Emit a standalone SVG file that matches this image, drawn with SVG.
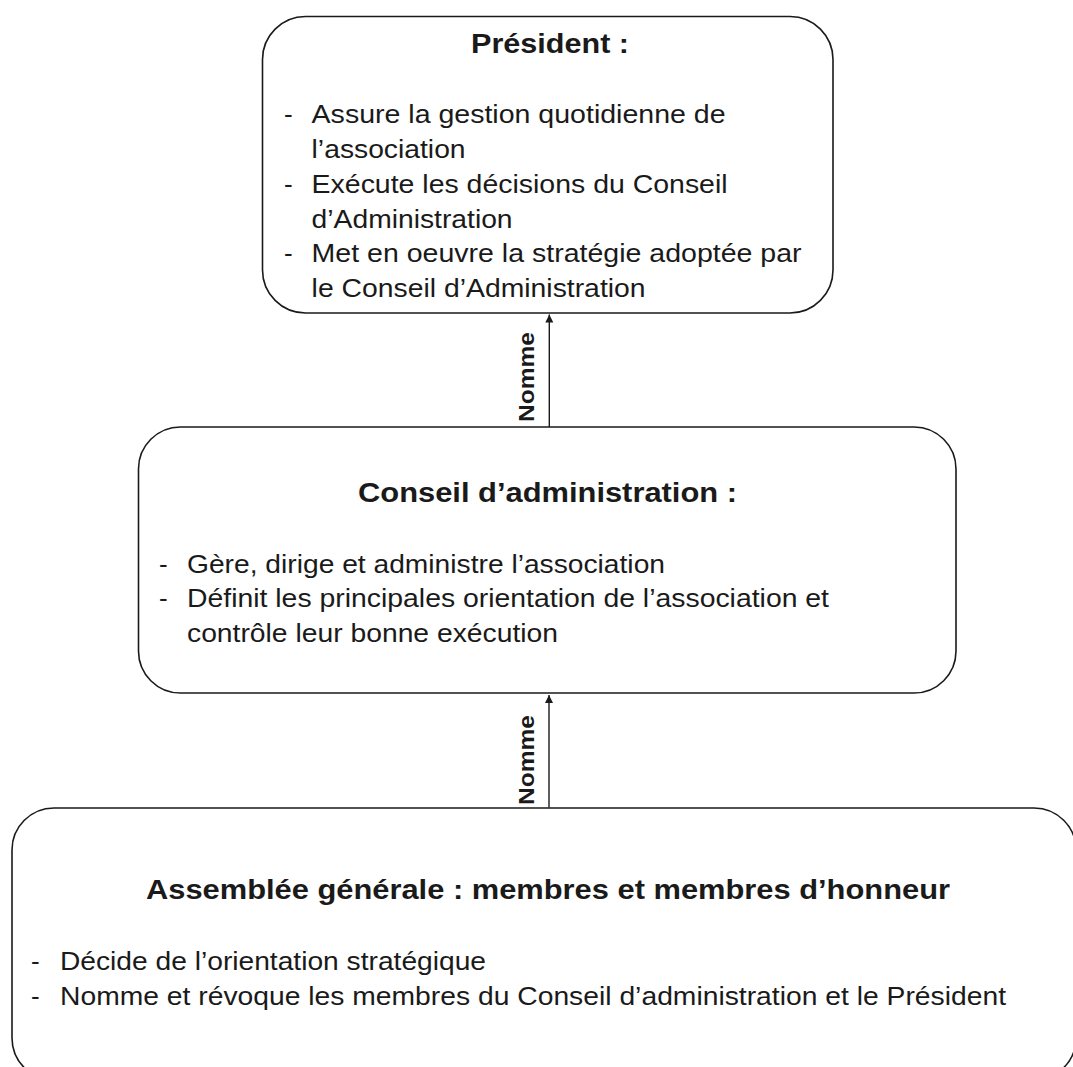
<svg xmlns="http://www.w3.org/2000/svg" width="1073" height="1067" viewBox="0 0 1073 1067">
  <defs>
    <marker id="arrow" markerUnits="userSpaceOnUse" markerWidth="9" markerHeight="9" refX="8" refY="4.5" orient="auto">
      <path d="M0,0.5 L8,4.5 L0,8.5 z" fill="#1a1a1a"/>
    </marker>
  </defs>
  <style>
    .box { fill: #ffffff; stroke: #1a1a1a; stroke-width: 1.6; }
    .title { font-family: "Liberation Sans", Arial, sans-serif; font-weight: bold; font-size: 27px; fill: #1a1a1a; }
    .body { font-family: "Liberation Sans", Arial, sans-serif; font-size: 26px; fill: #1a1a1a; }
    .lbl { font-family: "Liberation Sans", Arial, sans-serif; font-weight: bold; font-size: 22px; fill: #1a1a1a; }
    .edge { stroke: #1a1a1a; stroke-width: 1.4; fill: none; }
  </style>
  <rect width="1073" height="1067" fill="#ffffff"/>

  <g id="connectors">
    <line class="edge" x1="549.3" y1="427" x2="549.3" y2="314.5" marker-end="url(#arrow)"/>
    <text class="lbl" transform="translate(534,377) rotate(-90)" text-anchor="middle" textLength="90" lengthAdjust="spacingAndGlyphs">Nomme</text>
    <line class="edge" x1="549" y1="807.5" x2="549" y2="695" marker-end="url(#arrow)"/>
    <text class="lbl" transform="translate(534,760) rotate(-90)" text-anchor="middle" textLength="90" lengthAdjust="spacingAndGlyphs">Nomme</text>
  </g>

  <g id="president">
    <rect class="box" x="262.5" y="16.5" width="570.5" height="296.5" rx="43" ry="43"/>
    <text class="title" x="471" y="53" textLength="158" lengthAdjust="spacingAndGlyphs">Président :</text>
    <text class="body" x="284" y="123">-</text>
    <text class="body" x="311.6" y="123" textLength="414" lengthAdjust="spacingAndGlyphs">Assure la gestion quotidienne de</text>
    <text class="body" x="311.6" y="158" textLength="154" lengthAdjust="spacingAndGlyphs">l’association</text>
    <text class="body" x="284" y="193">-</text>
    <text class="body" x="311.6" y="193" textLength="416" lengthAdjust="spacingAndGlyphs">Exécute les décisions du Conseil</text>
    <text class="body" x="311.6" y="228" textLength="201" lengthAdjust="spacingAndGlyphs">d’Administration</text>
    <text class="body" x="284" y="262">-</text>
    <text class="body" x="311.6" y="262" textLength="490" lengthAdjust="spacingAndGlyphs">Met en oeuvre la stratégie adoptée par</text>
    <text class="body" x="311.6" y="297" textLength="334" lengthAdjust="spacingAndGlyphs">le Conseil d’Administration</text>
  </g>

  <g id="conseil">
    <rect class="box" x="138.5" y="427" width="817.5" height="266" rx="42" ry="42"/>
    <text class="title" x="358" y="501.7" textLength="379" lengthAdjust="spacingAndGlyphs">Conseil d’administration :</text>
    <text class="body" x="159" y="572.7">-</text>
    <text class="body" x="187" y="572.7" textLength="478" lengthAdjust="spacingAndGlyphs">Gère, dirige et administre l’association</text>
    <text class="body" x="159" y="606.7">-</text>
    <text class="body" x="187" y="606.7" textLength="642" lengthAdjust="spacingAndGlyphs">Définit les principales orientation de l’association et</text>
    <text class="body" x="187" y="641.7" textLength="371" lengthAdjust="spacingAndGlyphs">contrôle leur bonne exécution</text>
  </g>

  <g id="assemblee">
    <rect class="box" x="12" y="808" width="1064" height="272" rx="42" ry="42"/>
    <text class="title" x="146" y="899" textLength="804" lengthAdjust="spacingAndGlyphs">Assemblée générale : membres et membres d’honneur</text>
    <text class="body" x="31" y="970">-</text>
    <text class="body" x="60" y="970" textLength="426" lengthAdjust="spacingAndGlyphs">Décide de l’orientation stratégique</text>
    <text class="body" x="31" y="1005">-</text>
    <text class="body" x="60" y="1005" textLength="946" lengthAdjust="spacingAndGlyphs">Nomme et révoque les membres du Conseil d’administration et le Président</text>
  </g>
</svg>
